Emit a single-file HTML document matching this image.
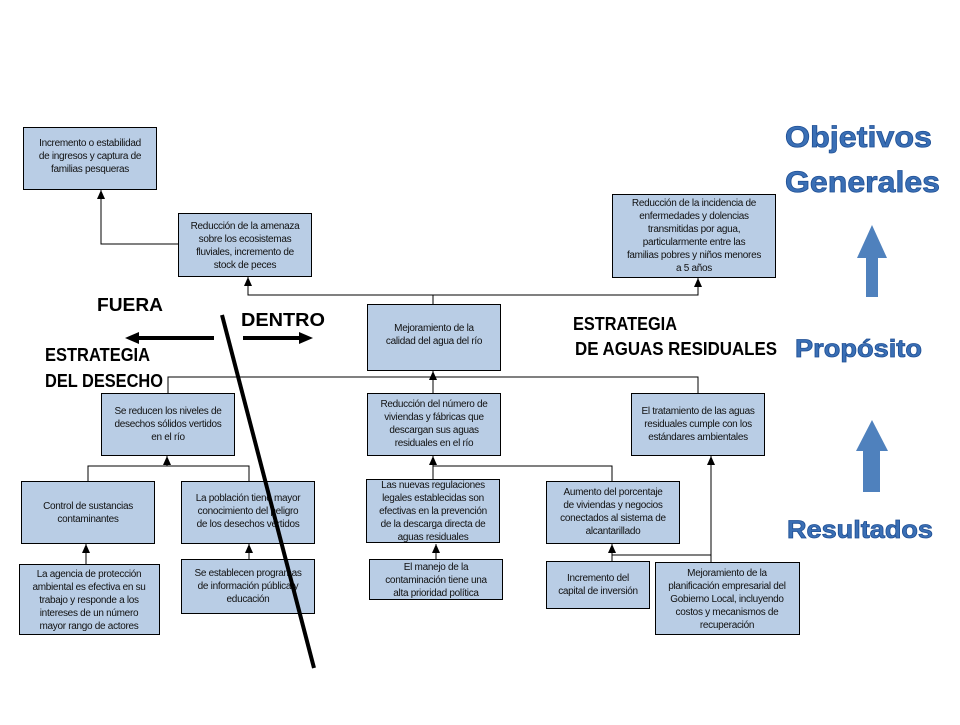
<!DOCTYPE html>
<html><head><meta charset="utf-8"><style>
body{margin:0;background:#fff;width:960px;height:720px;overflow:hidden}
svg text{font-family:"Liberation Sans",sans-serif}
.b{fill:#b9cde5;stroke:#000;stroke-width:1}
.t{font-size:10px;fill:#111;text-anchor:middle;letter-spacing:-0.3px}
.l{stroke:#000;stroke-width:1;fill:none}
.h{font-size:18px;font-weight:bold;fill:#000}
.bl{font-weight:bold;fill:#3a6fb5;stroke:#1f4f94;stroke-width:0.8}
</style></head><body>
<svg width="960" height="720" viewBox="0 0 960 720" xmlns="http://www.w3.org/2000/svg">
<defs><marker id="a" markerWidth="9" markerHeight="8" refX="9" refY="4" orient="auto" markerUnits="userSpaceOnUse"><path d="M0,0 L9,4 L0,8 z" fill="#000"/></marker></defs>
<path class="l" d="M178,244 H101 V190" marker-end="url(#a)"/>
<path class="l" d="M433,304 V295 H248 V277" marker-end="url(#a)"/>
<path class="l" d="M433,295 H698 V278" marker-end="url(#a)"/>
<path class="l" d="M433,393 V371" marker-end="url(#a)"/>
<path class="l" d="M168,393 V377 H698 V393"/>
<path class="l" d="M88,481 V466 H249 V481"/>
<path class="l" d="M167,466 V456" marker-end="url(#a)"/>
<path class="l" d="M433,479 V456" marker-end="url(#a)"/>
<path class="l" d="M433,466 H612 V481"/>
<path class="l" d="M86,564 V544" marker-end="url(#a)"/>
<path class="l" d="M249,559 V544" marker-end="url(#a)"/>
<path class="l" d="M436,559 V544" marker-end="url(#a)"/>
<path class="l" d="M612,561 V544" marker-end="url(#a)"/>
<path class="l" d="M612,555 H711 V562"/>
<path class="l" d="M711,555 V456" marker-end="url(#a)"/>
<rect class="b" x="23.5" y="127.5" width="133" height="62"/>
<text class="t"><tspan x="90" y="146">Incremento o estabilidad</tspan><tspan x="90" y="159">de ingresos y captura de</tspan><tspan x="90" y="172">familias pesqueras</tspan></text>
<rect class="b" x="178.5" y="213.5" width="133" height="63"/>
<text class="t"><tspan x="245" y="229">Reducción de la amenaza</tspan><tspan x="245" y="242">sobre los ecosistemas</tspan><tspan x="245" y="255">fluviales, incremento de</tspan><tspan x="245" y="268">stock de peces</tspan></text>
<rect class="b" x="612.5" y="194.5" width="163" height="83"/>
<text class="t"><tspan x="694" y="206">Reducción de la incidencia de</tspan><tspan x="694" y="219">enfermedades y dolencias</tspan><tspan x="694" y="232">transmitidas por agua,</tspan><tspan x="694" y="245">particularmente entre las</tspan><tspan x="694" y="258">familias pobres y niños menores</tspan><tspan x="694" y="271">a 5 años</tspan></text>
<rect class="b" x="367.5" y="304.5" width="133" height="66"/>
<text class="t"><tspan x="434" y="331">Mejoramiento de la</tspan><tspan x="434" y="344">calidad del agua del río</tspan></text>
<rect class="b" x="101.5" y="393.5" width="133" height="62"/>
<text class="t"><tspan x="168" y="414">Se reducen los niveles de</tspan><tspan x="168" y="427">desechos sólidos vertidos</tspan><tspan x="168" y="440">en el río</tspan></text>
<rect class="b" x="367.5" y="393.5" width="133" height="62"/>
<text class="t"><tspan x="434" y="407">Reducción del número de</tspan><tspan x="434" y="420">viviendas y fábricas que</tspan><tspan x="434" y="433">descargan sus aguas</tspan><tspan x="434" y="446">residuales en el río</tspan></text>
<rect class="b" x="631.5" y="393.5" width="133" height="62"/>
<text class="t"><tspan x="698" y="414">El tratamiento de las aguas</tspan><tspan x="698" y="427">residuales cumple con los</tspan><tspan x="698" y="440">estándares ambientales</tspan></text>
<rect class="b" x="21.5" y="481.5" width="133" height="62"/>
<text class="t"><tspan x="88" y="509">Control de sustancias</tspan><tspan x="88" y="522">contaminantes</tspan></text>
<rect class="b" x="181.5" y="481.5" width="133" height="62"/>
<text class="t"><tspan x="248" y="501">La población tiene mayor</tspan><tspan x="248" y="514">conocimiento del peligro</tspan><tspan x="248" y="527">de los desechos vertidos</tspan></text>
<rect class="b" x="366.5" y="479.5" width="133" height="63"/>
<text class="t"><tspan x="433" y="488">Las nuevas regulaciones</tspan><tspan x="433" y="501">legales establecidas son</tspan><tspan x="433" y="514">efectivas en la prevención</tspan><tspan x="433" y="527">de la descarga directa de</tspan><tspan x="433" y="540">aguas residuales</tspan></text>
<rect class="b" x="546.5" y="481.5" width="133" height="62"/>
<text class="t"><tspan x="613" y="495">Aumento del porcentaje</tspan><tspan x="613" y="508">de viviendas y negocios</tspan><tspan x="613" y="521">conectados al sistema de</tspan><tspan x="613" y="534">alcantarillado</tspan></text>
<rect class="b" x="19.5" y="564.5" width="140" height="70"/>
<text class="t"><tspan x="89" y="577">La agencia de protección</tspan><tspan x="89" y="590">ambiental es efectiva en su</tspan><tspan x="89" y="603">trabajo y responde a los</tspan><tspan x="89" y="616">intereses de un número</tspan><tspan x="89" y="629">mayor rango de actores</tspan></text>
<rect class="b" x="181.5" y="559.5" width="133" height="54"/>
<text class="t"><tspan x="248" y="576">Se establecen programas</tspan><tspan x="248" y="589">de información pública y</tspan><tspan x="248" y="602">educación</tspan></text>
<rect class="b" x="369.5" y="559.5" width="133" height="40"/>
<text class="t"><tspan x="436" y="570">El manejo de la</tspan><tspan x="436" y="583">contaminación tiene una</tspan><tspan x="436" y="596">alta prioridad política</tspan></text>
<rect class="b" x="546.5" y="561.5" width="103" height="47"/>
<text class="t"><tspan x="598" y="581">Incremento del</tspan><tspan x="598" y="594">capital de inversión</tspan></text>
<rect class="b" x="655.5" y="562.5" width="144" height="72"/>
<text class="t"><tspan x="727" y="576">Mejoramiento de la</tspan><tspan x="727" y="589">planificación empresarial del</tspan><tspan x="727" y="602">Gobierno Local, incluyendo</tspan><tspan x="727" y="615">costos y mecanismos de</tspan><tspan x="727" y="628">recuperación</tspan></text>
<line x1="222" y1="315" x2="314" y2="668" stroke="#000" stroke-width="4"/>
<line x1="214" y1="338" x2="136" y2="338" stroke="#000" stroke-width="4"/>
<path d="M125,338 L139,332 L139,344 z" fill="#000"/>
<line x1="243" y1="338" x2="302" y2="338" stroke="#000" stroke-width="4"/>
<path d="M313,338 L299,332 L299,344 z" fill="#000"/>
<text class="h" x="97" y="311" font-size="19" textLength="66" lengthAdjust="spacingAndGlyphs">FUERA</text>
<text class="h" x="241" y="326" font-size="19" textLength="84" lengthAdjust="spacingAndGlyphs">DENTRO</text>
<text class="h" x="45" y="361" font-size="17" textLength="105" lengthAdjust="spacingAndGlyphs">ESTRATEGIA</text>
<text class="h" x="45" y="387" font-size="17" textLength="118" lengthAdjust="spacingAndGlyphs">DEL DESECHO</text>
<text class="h" x="573" y="330" font-size="17" textLength="104" lengthAdjust="spacingAndGlyphs">ESTRATEGIA</text>
<text class="h" x="575" y="355" font-size="17" textLength="202" lengthAdjust="spacingAndGlyphs">DE AGUAS RESIDUALES</text>
<text class="bl" x="785" y="147" font-size="30" textLength="147" lengthAdjust="spacingAndGlyphs">Objetivos</text>
<text class="bl" x="785" y="192" font-size="30" textLength="155" lengthAdjust="spacingAndGlyphs">Generales</text>
<text class="bl" x="795" y="357" font-size="25" textLength="127" lengthAdjust="spacingAndGlyphs">Propósito</text>
<text class="bl" x="787" y="538" font-size="25" textLength="146" lengthAdjust="spacingAndGlyphs">Resultados</text>
<path d="M866,297 V258 H857 L872,225 L887,258 H878 V297 z" fill="#4f81bd"/>
<path d="M863,492 V451 H856 L872,420 L888,451 H880 V492 z" fill="#4f81bd"/>
</svg>
</body></html>
